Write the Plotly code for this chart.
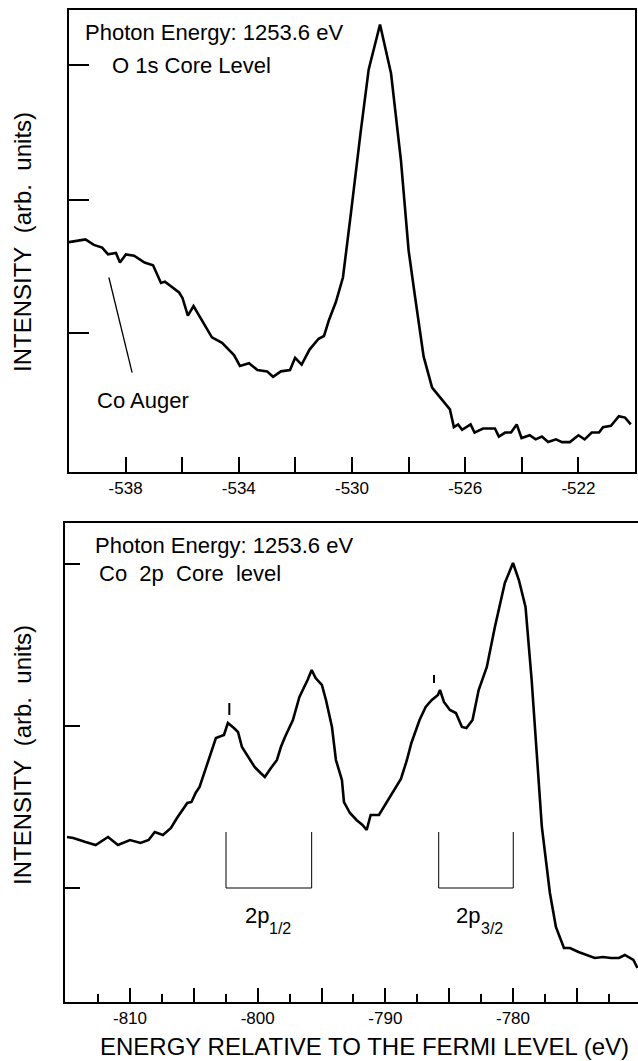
import plotly.graph_objects as go

W, H = 638, 1061

# ---------------- Data: O 1s core level (top panel) ----------------
X_O1S = [-540.00, -539.42, -539.12, -538.83, -538.62, -538.34, -538.20, -537.99, -537.70, -537.33,
         -537.03, -536.75, -536.61, -536.11, -535.99, -535.80, -535.60, -534.95, -534.59, -534.17,
         -533.96, -533.64, -533.34, -533.00, -532.79, -532.51, -532.19, -532.01, -531.78, -531.50,
         -531.18, -530.99, -530.81, -530.57, -530.32, -530.14, -530.04, -529.70, -529.41, -529.01,
         -528.62, -528.27, -528.00, -527.78, -527.47, -527.17, -526.82, -526.54, -526.40, -526.25,
         -526.11, -525.81, -525.67, -525.37, -524.95, -524.81, -524.59, -524.38, -524.18, -524.01,
         -523.72, -523.51, -523.29, -523.07, -522.79, -522.58, -522.30, -522.00, -521.78, -521.53,
         -521.27, -521.13, -520.85, -520.57, -520.35, -520.15]
Y_O1S = [1.69, 1.71, 1.67, 1.65, 1.60, 1.61, 1.54, 1.60, 1.59, 1.54,
         1.52, 1.39, 1.40, 1.32, 1.28, 1.15, 1.22, 0.99, 0.95, 0.86,
         0.78, 0.80, 0.75, 0.74, 0.70, 0.74, 0.75, 0.84, 0.79, 0.90,
         0.98, 1.00, 1.12, 1.25, 1.43, 1.71, 1.90, 2.49, 2.96, 3.29,
         2.93, 2.29, 1.63, 1.30, 0.85, 0.62, 0.53, 0.46, 0.33, 0.35,
         0.31, 0.35, 0.29, 0.32, 0.32, 0.26, 0.29, 0.29, 0.35, 0.25,
         0.27, 0.24, 0.26, 0.22, 0.24, 0.22, 0.22, 0.27, 0.24, 0.29,
         0.29, 0.33, 0.34, 0.41, 0.40, 0.35]

# ---------------- Data: Co 2p core level (bottom panel) ----------------
X_CO2P = [-814.93, -814.44, -813.48, -812.69, -811.72, -810.94, -810.00, -809.17, -808.54, -808.06,
          -807.42, -806.79, -806.32, -806.01, -805.51, -805.18, -804.86, -804.55, -804.23, -803.91,
          -803.59, -803.27, -802.64, -802.33, -801.86, -801.54, -801.23, -800.72, -800.24, -799.77,
          -799.44, -798.96, -798.49, -798.18, -797.86, -797.24, -796.73, -796.09, -795.77, -795.46,
          -794.97, -794.65, -794.18, -793.87, -793.40, -793.24, -792.77, -792.26, -791.79, -791.46,
          -791.15, -790.50, -789.87, -789.41, -788.78, -788.31, -787.96, -787.32, -786.84, -786.36,
          -785.88, -785.72, -785.41, -784.94, -784.47, -784.00, -783.65, -783.17, -782.69, -782.05,
          -781.42, -780.64, -780.00, -779.54, -779.02, -778.54, -778.07, -777.74, -777.11, -776.64,
          -776.01, -775.54, -774.87, -774.23, -773.60, -772.95, -772.33, -771.70, -771.24, -770.57,
          -770.25]
Y_CO2P = [1.65, 1.64, 1.60, 1.57, 1.65, 1.57, 1.62, 1.59, 1.62, 1.70,
          1.67, 1.74, 1.84, 1.90, 1.99, 2.00, 2.09, 2.15, 2.27, 2.39,
          2.52, 2.64, 2.67, 2.79, 2.74, 2.70, 2.55, 2.45, 2.35, 2.29,
          2.25, 2.34, 2.42, 2.55, 2.65, 2.82, 3.05, 3.22, 3.32, 3.24,
          3.17, 3.02, 2.75, 2.42, 2.22, 2.00, 1.89, 1.82, 1.77, 1.72,
          1.87, 1.87, 2.00, 2.09, 2.23, 2.42, 2.59, 2.82, 2.95, 3.02,
          3.07, 3.12, 3.00, 2.92, 2.89, 2.75, 2.74, 2.82, 3.12, 3.35,
          3.75, 4.19, 4.39, 4.22, 3.95, 3.22, 2.39, 1.75, 1.09, 0.75,
          0.54, 0.54, 0.50, 0.47, 0.44, 0.45, 0.44, 0.44, 0.47, 0.42,
          0.34]

# Tick definitions
TOP_XMAJOR = [-538, -534, -530, -526, -522]
TOP_XMINOR = [-536, -532, -528, -524]
TOP_YTICKS = [1.02, 2.00, 2.99]
BOT_XLONG = [-810, -805, -800, -795, -790, -785, -780, -775]
BOT_XLABELED = [-810, -800, -790, -780]
BOT_XSHORT = [-812.5, -807.5, -802.5, -797.5, -792.5, -787.5, -782.5, -777.5, -772.5]
BOT_YTICKS = [1.14, 2.76, 4.38]

# Annotation marks (data coordinates)
AUGER_LINE_X = [-538.59, -537.77]
AUGER_LINE_Y = [1.43, 0.73]
BRACKET_12 = [-802.48, -795.77]
BRACKET_32 = [-785.82, -779.98]
BRACKET_Y = [1.70, 1.14]
SAT_E = [-802.22, -786.19]
SAT_Y = [[2.87, 2.99], [3.19, 3.27]]

FONT = "Liberation Sans, Arial, Helvetica, sans-serif"

fig = go.Figure()
fig.add_trace(go.Scatter(x=X_O1S, y=Y_O1S, xaxis="x", yaxis="y", mode="lines",
                         line=dict(color="black", width=2.6), showlegend=False, hoverinfo="skip"))
fig.add_trace(go.Scatter(x=X_CO2P, y=Y_CO2P, xaxis="x2", yaxis="y2", mode="lines",
                         line=dict(color="black", width=2.6), showlegend=False, hoverinfo="skip"))
# Co Auger pointer
fig.add_trace(go.Scatter(x=AUGER_LINE_X, y=AUGER_LINE_Y, xaxis="x", yaxis="y", mode="lines",
                         line=dict(color="black", width=1.3), showlegend=False, hoverinfo="skip"))
# spin-orbit brackets
for br in (BRACKET_12, BRACKET_32):
    fig.add_trace(go.Scatter(x=[br[0], br[0], br[1], br[1]],
                             y=[BRACKET_Y[0], BRACKET_Y[1], BRACKET_Y[1], BRACKET_Y[0]],
                             xaxis="x2", yaxis="y2", mode="lines",
                             line=dict(color="black", width=1), showlegend=False, hoverinfo="skip"))
# satellite marks
for e, ys in zip(SAT_E, SAT_Y):
    fig.add_trace(go.Scatter(x=[e, e], y=ys, xaxis="x2", yaxis="y2", mode="lines",
                             line=dict(color="black", width=2), showlegend=False, hoverinfo="skip"))


def px_x(p):
    return p / W


def px_y(p):
    return 1 - p / H


axis_common = dict(showline=True, linecolor="black", linewidth=2, showgrid=False, zeroline=False,
                   ticks="inside", tickcolor="black", tickwidth=2)

TOP_XRANGE = [-540, -520]
BOT_XRANGE = [-815.09, -770.21]
TOP_XDOM = [px_x(69), px_x(635)]
BOT_XDOM = [px_x(65), 1.0]

fig.update_layout(
    width=W, height=H,
    margin=dict(l=0, r=0, t=0, b=0),
    paper_bgcolor="white", plot_bgcolor="white",
    font=dict(family=FONT, color="black", size=17),
    xaxis=dict(domain=TOP_XDOM, range=TOP_XRANGE, anchor="y", mirror=True,
               ticklen=15, tickvals=TOP_XMAJOR, ticktext=[str(v) for v in TOP_XMAJOR],
               tickfont=dict(size=17),
               minor=dict(tickvals=TOP_XMINOR, ticklen=15, tickwidth=2, ticks="inside",
                          tickcolor="black", showgrid=False),
               **axis_common),
    yaxis=dict(domain=[px_y(472), px_y(10)], range=[0, 3.397], anchor="x", mirror=True,
               ticklen=20, tickvals=TOP_YTICKS, showticklabels=False, **axis_common),
    xaxis2=dict(domain=BOT_XDOM, range=BOT_XRANGE, anchor="y2", mirror=True,
                ticklen=14, tickvals=BOT_XLONG, showticklabels=False,
                minor=dict(tickvals=BOT_XSHORT, ticklen=8, tickwidth=2, ticks="inside",
                           tickcolor="black", showgrid=False),
                **axis_common),
    # label-only axis for the bottom panel (labels every 10 eV)
    xaxis3=dict(domain=BOT_XDOM, range=BOT_XRANGE, anchor="y2", overlaying="x2", side="bottom",
                showline=False, showgrid=False, zeroline=False, ticks="",
                tickvals=BOT_XLABELED, ticktext=[str(v) for v in BOT_XLABELED],
                tickfont=dict(size=17), ticklabelstandoff=4),
    yaxis2=dict(domain=[px_y(1002), px_y(523)], range=[0, 4.79], anchor="x2", mirror=False,
                ticklen=15, tickvals=BOT_YTICKS, showticklabels=False, **axis_common),
)
# invisible trace to activate xaxis3
fig.add_trace(go.Scatter(x=[BOT_XRANGE[0]], y=[None], xaxis="x3", yaxis="y2", mode="lines",
                         showlegend=False, hoverinfo="skip"))

ann = [
    dict(text="Photon Energy: 1253.6 eV", x=px_x(83), y=px_y(32), xanchor="left", size=22),
    dict(text="O 1s Core Level", x=px_x(110), y=px_y(65), xanchor="left", size=22),
    dict(text="Co Auger", x=px_x(95), y=px_y(400), xanchor="left", size=22),
    dict(text="Photon Energy: 1253.6 eV", x=px_x(93), y=px_y(545), xanchor="left", size=22),
    dict(text="Co\u00a0\u00a02p\u00a0\u00a0Core\u00a0\u00a0level", x=px_x(97), y=px_y(573), xanchor="left", size=22),
    dict(text="ENERGY RELATIVE TO THE FERMI LEVEL (eV)", x=px_x(364), y=px_y(1046), xanchor="center", size=24),
]
annotations = []
for a in ann:
    annotations.append(dict(text=a["text"], x=a["x"], y=a["y"], xref="paper", yref="paper",
                            xanchor=a["xanchor"], yanchor="middle", showarrow=False,
                            font=dict(family=FONT, size=a["size"], color="black")))
for yc in (242, 755):
    annotations.append(dict(text="INTENSITY\u00a0\u00a0(arb.\u00a0\u00a0units)", x=px_x(22), y=px_y(yc),
                            xref="paper", yref="paper",
                            xanchor="center", yanchor="middle", textangle=-90, showarrow=False,
                            font=dict(family=FONT, size=24, color="black")))
# 2p labels under the brackets: main text + dropped subscript
LABELS_2P = [("2p", "1/2", -800.08, -799.27), ("2p", "3/2", -783.49, -782.67)]
for main, sub, xm, xs in LABELS_2P:
    annotations.append(dict(text=main, x=xm, y=0.87, xref="x2", yref="y2", xanchor="center",
                            yanchor="middle", showarrow=False,
                            font=dict(family=FONT, size=22, color="black")))
    annotations.append(dict(text=sub, x=xs, y=0.74, xref="x2", yref="y2", xanchor="left",
                            yanchor="middle", showarrow=False,
                            font=dict(family=FONT, size=16, color="black")))
fig.update_layout(annotations=annotations)

fig.write_html("out.html", config={"displayModeBar": False})
